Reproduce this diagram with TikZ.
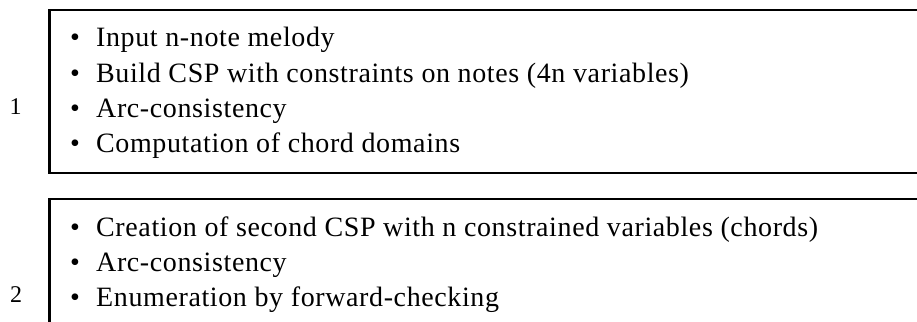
\documentclass[tikz,border=0pt]{standalone}
\usepackage{fontspec}
\setmainfont{Liberation Serif}
\newfontfamily\spacedserif[LetterSpace=2.2]{Liberation Serif}
\begin{document}
\begin{tikzpicture}[x=1pt,y=1pt,
  boxframe/.style={line width=2.5pt},
  itemtext/.style={anchor=base west, inner sep=0pt, font=\spacedserif\fontsize{28}{34}\selectfont},
  bulletmark/.style={anchor=base, inner sep=0pt, font=\fontsize{28}{34}\selectfont},
  steplabel/.style={anchor=base, inner sep=0pt, font=\fontsize{24}{28}\selectfont}]
\clip (0,0) rectangle (917,-321);
\useasboundingbox (0,0) rectangle (917,-321);
% boxes
\draw[boxframe] (49.5,-10) rectangle (940,-173);
\draw[boxframe] (49.5,-199) rectangle (940,-340);
% step labels
\node[steplabel] (l1) at (15.5,-114) {1};
\node[steplabel] (l2) at (16,-302) {2};
% box 1 items
\node[bulletmark] (b11) at (75,-47) {•};
\node[itemtext] (t11) at (96,-47) {Input n-note melody};
\node[bulletmark] (b12) at (75,-82) {•};
\node[itemtext] (t12) at (96,-82) {Build CSP with constraints on notes (4n variables)};
\node[bulletmark] (b13) at (75,-117) {•};
\node[itemtext] (t13) at (96,-117) {Arc-consistency};
\node[bulletmark] (b14) at (75,-152) {•};
\node[itemtext] (t14) at (96,-152) {Computation of chord domains};
% box 2 items
\node[bulletmark] (b21) at (75,-236) {•};
\node[itemtext] (t21) at (96,-236) {Creation of second CSP with n constrained variables (chords)};
\node[bulletmark] (b22) at (75,-271) {•};
\node[itemtext] (t22) at (96,-271) {Arc-consistency};
\node[bulletmark] (b23) at (75,-306) {•};
\node[itemtext] (t23) at (96,-306) {Enumeration by forward-checking};
\end{tikzpicture}
\end{document}
